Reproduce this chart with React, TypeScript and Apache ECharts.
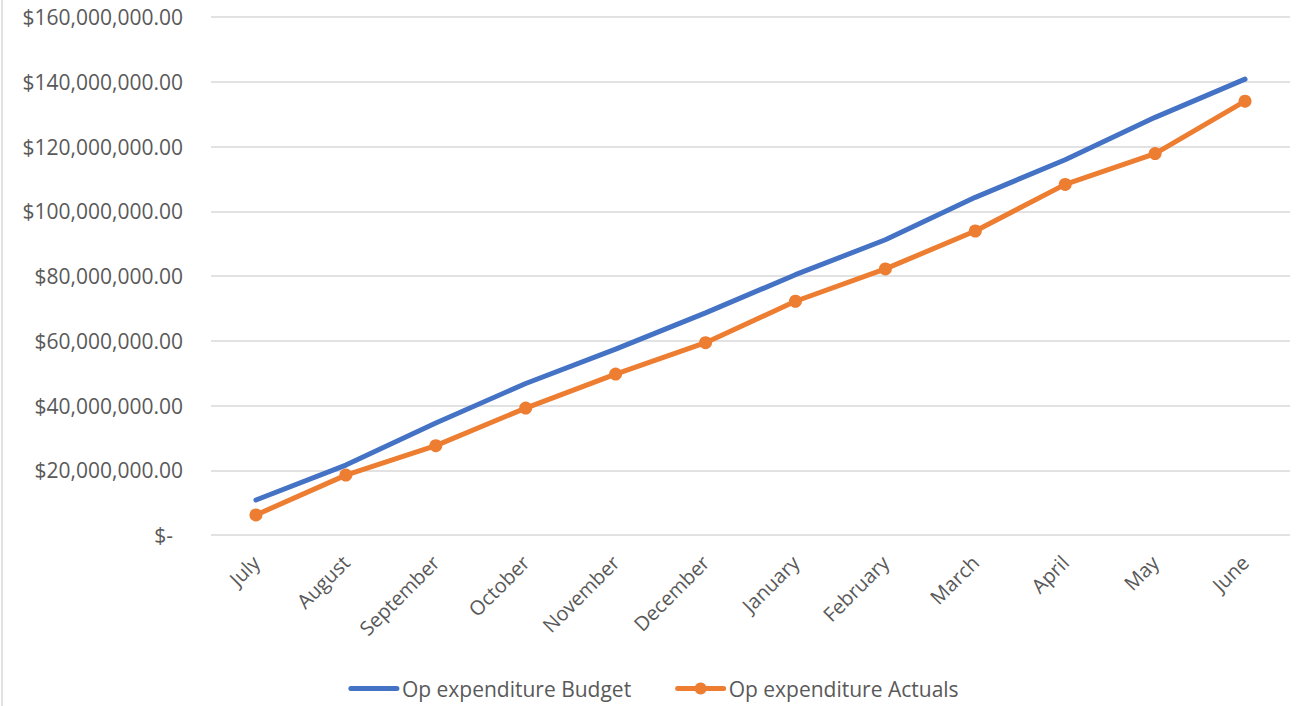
import React, { useEffect, useRef } from "react";
import * as echarts from "echarts";

const months = ["July", "August", "September", "October", "November", "December", "January", "February", "March", "April", "May", "June"];
const budget = [10.8, 21.6, 34.6, 46.8, 57.4, 68.6, 80.4, 91.2, 104.3, 115.9, 129.0, 140.8].map((v) => v * 1e6);
const actuals = [6.2, 18.5, 27.6, 39.2, 49.7, 59.4, 72.2, 82.2, 93.9, 108.3, 117.8, 134.0].map((v) => v * 1e6);
const yTicks = { min: 0, max: 160e6, interval: 20e6 };

const FONT = "Open Sans";
const TEXT = "#595959";

function fmt(v: number): string {
  if (v === 0) return "{z|$-}";
  return "$" + v.toLocaleString("en-US", { minimumFractionDigits: 2, maximumFractionDigits: 2 });
}

export default function App() {
  const ref = useRef<HTMLDivElement>(null);
  useEffect(() => {
    if (!ref.current) return;
    const chart = echarts.init(ref.current, undefined, { renderer: "svg" });
    chart.setOption({
      animation: false,
      backgroundColor: "#ffffff",
      textStyle: { fontFamily: FONT },
      graphic: [
        { type: "line", shape: { x1: 2, y1: 0, x2: 2, y2: 706 }, style: { stroke: "#D9D9D9", lineWidth: 1.5 } },
      ],
      grid: { left: 211, right: 17, top: 17, bottom: 171 },
      legend: {
        bottom: 2,
        left: "center",
        itemWidth: 46,
        itemHeight: 15,
        itemGap: 44,
        lineStyle: { width: 5 },
        textStyle: { color: TEXT, fontSize: 21, fontFamily: FONT },
        data: [
          { name: "Op expenditure Budget", itemStyle: { opacity: 0 } },
          { name: "Op expenditure Actuals" },
        ],
      },
      xAxis: {
        type: "category",
        data: months,
        boundaryGap: true,
        axisLine: { show: false },
        axisTick: { show: false },
        axisLabel: { rotate: 45, color: TEXT, fontSize: 20, fontFamily: FONT, margin: 24, interval: 0 },
      },
      yAxis: {
        type: "value",
        min: yTicks.min,
        max: yTicks.max,
        interval: yTicks.interval,
        axisLine: { show: false },
        axisTick: { show: false },
        splitLine: { lineStyle: { color: "#D9D9D9", width: 1.5 } },
        axisLabel: {
          color: TEXT,
          fontSize: 21,
          fontFamily: FONT,
          margin: 28,
          formatter: fmt,
          rich: { z: { color: TEXT, fontSize: 21, fontFamily: FONT, padding: [0, 10, 0, 0] } },
        },
      },
      series: [
        {
          name: "Op expenditure Budget",
          type: "line",
          data: budget,
          symbol: "none",
          lineStyle: { color: "#4472C4", width: 5, cap: "round" },
          itemStyle: { color: "#4472C4" },
        },
        {
          name: "Op expenditure Actuals",
          type: "line",
          data: actuals,
          symbol: "circle",
          symbolSize: 13,
          lineStyle: { color: "#ED7D31", width: 5, cap: "round" },
          itemStyle: { color: "#ED7D31" },
        },
      ],
    });
    return () => chart.dispose();
  }, []);
  return <div ref={ref} style={{ position: "absolute", left: 0, top: 0, width: 1307, height: 706 }} />;
}
